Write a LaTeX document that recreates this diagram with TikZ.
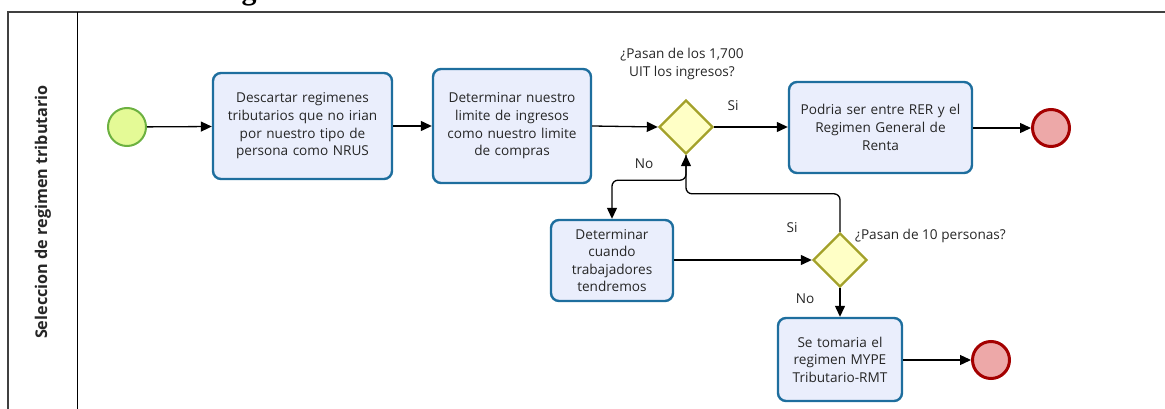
\documentclass[tikz,border=0pt]{standalone}
\usepackage{fontspec}
\setmainfont{Open Sans}
\newfontfamily\titlefont{Liberation Serif}
\usetikzlibrary{arrows.meta,shapes.geometric}
\definecolor{taskfill}{HTML}{EAEEFC}
\definecolor{taskline}{HTML}{1E6E9E}
\definecolor{gwfill}{HTML}{FFFFC6}
\definecolor{gwline}{HTML}{A3A12A}
\definecolor{stfill}{HTML}{E4FA96}
\definecolor{stline}{HTML}{6CB140}
\definecolor{enfill}{HTML}{EDA8A8}
\definecolor{enline}{HTML}{A40000}
\definecolor{txt}{HTML}{262626}
\begin{document}
\begin{tikzpicture}[x=1pt,y=-1pt,
  task/.style={draw=taskline,fill=taskfill,line width=2.4pt,rounded corners=8pt,
    align=center,inner sep=2pt,font=\fontsize{13.6}{17.6}\selectfont,text=txt},
  gw/.style={diamond,draw=gwline,fill=gwfill,line width=2.4pt,minimum width=54pt,
    minimum height=54pt,inner sep=0pt},
  startev/.style={circle,draw=stline,fill=stfill,line width=2pt,minimum size=38pt,inner sep=0pt},
  endev/.style={circle,draw=enline,fill=enfill,line width=3pt,minimum size=37pt,inner sep=0pt},
  flow/.style={draw=black,line width=1.3pt,-{Triangle[length=11pt,width=10pt]}},
  lbl/.style={font=\fontsize{13.6}{17.6}\selectfont,text=txt,align=center,inner sep=0pt}]
\useasboundingbox (0,0) rectangle (1165,409);
% title (cut off)
\node[anchor=base west,inner sep=0pt,font=\titlefont\bfseries\fontsize{30}{30}\selectfont] (title) at (14,-0.8) {ts Selección de Régimen Tributario};
% pool
\draw[line width=1.2pt,draw=black!75] (8,409) -- (8,12) -- (1165,12);
\draw[line width=1pt] (77,12) -- (77,409);
\node[rotate=90,font=\bfseries\fontsize{16.2}{18}\selectfont,text=txt] (lane) at (43,212) {Seleccion de regimen tributario};
% nodes
\node[startev] (start) at (127,127) {};
\node[task,minimum width=179pt,minimum height=106pt,text width=172pt] (t1) at (302.5,126)
  {Descartar regimenes\\tributarios que no irian\\por nuestro tipo de\\persona como NRUS};
\node[task,minimum width=158pt,minimum height=114pt,text width=152pt] (t2) at (512,126)
  {Determinar nuestro\\limite de ingresos\\como nuestro limite\\de compras};
\node[gw] (d1) at (686,127) {};
\node[task,minimum width=183pt,minimum height=91pt,text width=177pt] (t3) at (880.5,127.5)
  {Podria ser entre RER y el\\Regimen General de\\Renta};
\node[endev] (e1) at (1051,128) {};
\node[task,minimum width=122pt,minimum height=81pt,text width=117pt] (t4) at (612,260.5)
  {Determinar\\cuando\\trabajadores\\tendremos};
\node[gw] (d2) at (840,260) {};
\node[task,minimum width=124pt,minimum height=83pt,text width=120pt] (t5) at (840,359.5)
  {Se tomaria el\\regimen MYPE\\Tributario-RMT};
\node[endev] (e2) at (991,360) {};
% labels
\node[lbl] (q1) at (682,64) {¿Pasan de los 1,700\\UIT los ingresos?};
\node[lbl] (si1) at (733,106) {Si};
\node[lbl] (no1) at (644,164) {No};
\node[lbl] (si2) at (792,228) {Si};
\node[lbl,anchor=west] (q2) at (855,236) {¿Pasan de 10 personas?};
\node[lbl] (no2) at (805,299) {No};
% flows
\draw[flow] (start) -- (t1);
\draw[flow] (t1) -- (t2);
\draw[flow] (t2.east) -- (d1.west);
\draw[flow] (d1.east) -- (t3.west |- d1.east);
\draw[flow] (t3.east |- e1) -- (e1);
\draw[flow,rounded corners=6pt] (d1.south) -- ++(0,25) -| (t4.north);
\draw[flow,rounded corners=6pt] (d2.north) -- ++(0,-38) -| (d1.south);
\draw[flow] (t4.east |- d2.west) -- (d2.west);
\draw[flow] (d2.south) -- (t5.north);
\draw[flow] (t5.east |- e2) -- (e2);
\end{tikzpicture}
\end{document}
